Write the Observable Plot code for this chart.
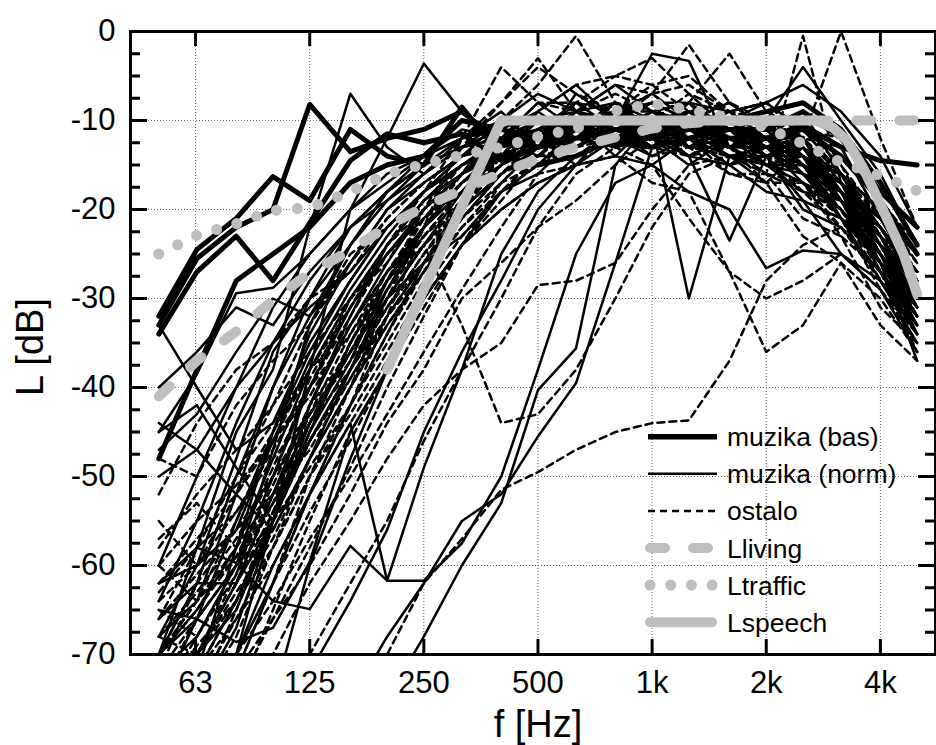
<!DOCTYPE html>
<html><head><meta charset="utf-8">
<script src="https://cdn.jsdelivr.net/npm/d3@7"></script>
<script src="https://cdn.jsdelivr.net/npm/@observablehq/plot@0.6"></script>
<style>body{margin:0;background:#fff;} #chart{width:936px;height:745px;}</style>
</head><body><div id="chart"></div>
<script>
// 1/3-octave band centre frequencies (Hz)
const bands = [50,63,80,100,125,160,200,250,315,400,500,630,800,1000,1250,1600,2000,2500,3150,4000,5000];

// muzika (bas) – thick solid
const basLines = [
  [-32,-24.5,-21,-16.3,-19,-11,-14,-15,-8.5,-14,-15,-14,-12,-12,-11,-11,-12,-10.5,-13,-14.5,-15],
  [-33,-25.5,-22,-20,-8.2,-13.5,-12,-11,-9,-12.5,-13,-12,-11,-11.5,-10,-10,-9,-8,-11,-17,-24],
  [-34,-27,-23,-28,-21.5,-14.5,-11.5,-12.5,-11.5,-14.5,-13,-11,-12.5,-13,-12,-11,-11,-9,-12,-18,-22],
  [-48,-38,-28,-25,-22,-17,-15,-14,-10,-11,-12,-10,-10,-11,-10,-12,-12,-11,-14,-19,-25]
];
// muzika (norm) – thin solid
const normLines = [
  [-80,-75,-70,-55,-38,-20,-12,-3.6,-9,-12,-8,-11,-9,-12,-8,-13,-10,-14,-16,-24,-27],
  [-70,-58,-45,-38,-22,-7,-13,-16,-12,-9,-13,-7,-10,-8,-13,-10,-14,-12,-19,-23,-31],
  [-75,-70,-65,-55,-45,-35,-28,-22,-18,-14,-12,-15,-10,-2.5,-3.3,-13,-15,-18,-19,-26,-30],
  [-60,-50,-40,-31,-25,-20,-16,-14,-12,-11,-9,-12,-11,-10.5,-30,-14,-17,-13,-18,-21,-28],
  [-65,-66,-68.6,-67,-59.6,-45,-38,-30,-24,-18,-16,-12,-13,-11,-14,-12,-15,-14,-21,-25,-33],
  [-62,-58,-59.7,-64,-64.9,-57.8,-61.7,-61.7,-57.5,-50,-38,-25,-17,-15,-12,-15,-13,-17,-19,-27,-32],
  [-80,-75,-70,-60,-52,-44,-61.7,-49,-38,-25,-18,-14,-12,-14,-12,-15,-14,-19,-21,-28,-34],
  [-80,-80,-80,-80,-80,-75,-68,-62,-55,-52,-45.5,-39.5,-26,-13,-12,-15,-12,-16,-18,-26,-31],
  [-80,-80,-80,-80,-80,-80,-75,-68,-60,-53,-40.3,-35.6,-15,-10,-13,-11,-14,-13,-19,-23,-30],
  [-70,-62,-50,-40,-32,-26,-20,-16,-13,-12,-9,-6,-10,-8,-10,-8,-11,-12,-17,-21,-28],
  [-75,-66,-55,-45,-36,-28,-22,-18,-14,-10,-7,-9,-6,-9,-8,-9,-8,-11,-13,-21,-25],
  [-68,-60,-48,-36,-30,-24,-19,-15,-12,-10,-12,-8,-11,-9,-11,-9,-12,-9,-16,-20,-28],
  [-64,-55,-44,-35,-28,-22,-18,-15,-13,-11,-13,-10,-14,-10,-12,-10,-13,-12,-18,-22,-29],
  [-72,-68,-60,-50,-40,-31,-25,-20,-16,-12,-13,-9,-8,-11,-9,-11,-11,-15,-17,-25,-32],
  [-50,-47,-40,-35,-31,-27,-22,-18,-15,-12,-14,-10,-13,-12,-15,-12,-13,-11,-16,-20,-25],
  [-45,-42,-49,-55,-45,-37,-28,-22,-17,-13,-10,-12,-10,-13,-9,-13,-12,-16,-18,-27,-34],
  [-80,-75,-67,-55,-44,-36,-30,-26,-23,-18,-15,-11,-12,-11,-14,-15,-18,-19,-25,-28,-35],
  [-75,-70,-62,-52,-42,-33,-26,-20,-16,-13,-11,-12,-9,-10,-9,-10,-8,-6,-9,-14,-22],
  [-80,-72,-64,-55,-46,-38,-30,-24,-18,-15,-13,-11,-12,-9,-12,-10,-10,-4,-10,-16,-24],
  [-80,-80,-72,-62,-52,-42,-34,-26,-20,-16,-13,-12,-11,-12,-14,-23.5,-14,-20,-22,-27,-32],
  [-80,-80,-80,-75,-60,-48,-38,-30,-24,-20,-17,-15,-14,-15,-18,-20,-26.6,-24.6,-25,-29,-36],
  [-70,-65,-58,-48,-38,-30,-24,-19,-15,-12,-10,-12,-11,-10,-12,-13,-15,-16,-21,-26,-37],
  [-45,-38.5,-29.4,-28.8,-25,-20,-17,-14,-12,-11,-13,-10,-11,-10,-13,-11,-14,-12,-18,-22,-28],
  [-33,-40,-47,-44,-35,-28,-22,-18,-15,-13,-11,-13,-10,-13,-11,-13,-13,-15,-18,-26,-30],
  [-44,-47,-52,-56,-48,-38,-29,-22,-17,-14,-12,-10,-12,-10,-13,-11,-15,-15,-21,-26,-33],
  [-70,-66,-60,-47,-33,-24,-18,-14,-11,-12,-10,-13,-11,-12,-10,-12,-12,-14,-17,-23,-29],
  [-68,-64,-52,-40,-30,-22,-18,-15,-13,-10,-12,-9,-11,-13,-11,-12,-13,-13,-18,-24,-30],
  [-80,-72,-58,-45,-34,-26,-20,-17,-14,-13,-11,-10,-12,-11,-12,-14,-13,-16,-20,-25,-34],
  [-66,-62,-62,-55,-42,-32,-24,-19,-16,-14,-12,-13,-10,-12,-12,-11,-13,-15,-19,-24,-31],
  [-62,-60,-56,-46,-37,-29,-23,-18,-14,-12,-10,-11,-12,-10,-11,-13,-12,-15,-18,-23,-29],
  [-40,-36,-31,-33,-27,-22,-19,-16,-13,-12,-11,-12,-10,-11,-12,-11,-12,-14,-17,-22,-27],
  [-47,-43,-36,-30,-32,-24,-18,-15,-13,-11,-12,-10,-11,-12,-10,-12,-14,-13,-18,-24,-31],
  [-80,-80,-80,-80,-72,-64,-56,-45,-36,-28,-20,-15,-12,-11,-12,-13,-13,-16,-20,-25,-30]
];
// ostalo – dashed
const ostaloLines = [
  [-80,-75,-68,-58,-48,-40,-32,-26,-20,-16,-13,-11,-8,-12,-10,-11,-12,-12,0,-12,-22],
  [-75,-70,-62,-52,-44,-36,-29,-24,-19,-15,-12,-9,-10,-8,-12,-13,-16,-0.5,-17,-22,-28],
  [-80,-80,-72,-62,-50,-40,-30,-22,-16,-10,-6,-0.5,-8,-10,-7,-11,-12,-15,-18,-24,-30],
  [-70,-64,-55,-46,-38,-30,-24,-18,-12,-8,-3,-9,-7,-9,-11,-9,-12,-13,-19,-23,-29],
  [-80,-80,-80,-80,-80,-78,-70,-62,-57,-51.5,-49.5,-47,-45,-44,-43.7,-37,-28,-24,-22,-27,-33],
  [-80,-80,-78,-70,-62,-55,-48,-42,-38,-35,-28.5,-28,-26,-20,-15,-14,-13,-16,-19,-24,-30],
  [-80,-75,-65,-55,-45,-35,-28,-24,-33,-44,-43,-38,-30,-22,-16,-14,-15,-17,-20,-26,-33],
  [-80,-80,-75,-65,-55,-45,-38,-30,-24,-20,-17,-15,-14,-17,-18,-27,-36,-33,-26,-30,-36],
  [-70,-62,-50,-42,-33,-26,-21,-17,-14,-11,-12,-8,-9,-7,-10,-8,-11,-12,-18,-22,-29],
  [-66,-58,-54,-47,-40,-32,-25,-20,-16,-13,-10,-11,-8,-9,-8,-11,-10,-13,-15,-23,-27],
  [-78,-70,-63,-57,-48,-40,-33,-27,-21,-16,-14,-11,-12,-10,-13,-12,-15,-15,-21,-25,-32],
  [-62,-57,-52,-45,-38,-31,-25,-21,-18,-13,-11,-8,-9,-6,-9,-8,-11,-11,-16,-20,-26],
  [-72,-66,-60,-53,-46,-38,-31,-25,-20,-15,-11,-11,-8,-11,-10,-13,-12,-16,-18,-26,-31],
  [-80,-78,-70,-62,-54,-46,-38,-31,-24,-18,-14,-10,-11,-10,-11,-10,-13,-13,-19,-22,-28],
  [-58,-52,-47,-42,-36,-30,-25,-21,-17,-14,-12,-9,-10,-7,-10,-9,-12,-12,-18,-21,-28],
  [-68,-63,-57,-50,-43,-36,-29,-23,-18,-14,-10,-9,-6,-7,-6,-9,-8,-12,-13,-21,-26],
  [-75,-69,-64,-58,-50,-43,-36,-29,-23,-18,-15,-12,-13,-10,-13,-13,-17,-17,-23,-27,-34],
  [-80,-80,-74,-66,-58,-49,-40,-32,-24,-17,-13,-12,-11,-14,-13,-16,-16,-21,-23,-31,-35],
  [-64,-60,-54,-48,-43,-37,-31,-26,-21,-16,-12,-12,-9,-12,-11,-12,-11,-15,-17,-25,-30],
  [-70,-64,-58,-52,-44,-35,-27,-21,-16,-12,-8,-8,-5,-6,-5,-9,-8,-11,-12,-19,-24],
  [-60,-55,-51,-46,-40,-34,-28,-23,-19,-14,-13,-9,-12,-11,-14,-11,-14,-14,-21,-25,-31],
  [-76,-72,-66,-60,-52,-44,-37,-30,-24,-19,-14,-13,-9,-10,-9,-12,-11,-15,-16,-23,-27],
  [-80,-76,-70,-64,-57,-50,-43,-36,-29,-22,-16,-15,-11,-12,-11,-14,-14,-18,-20,-28,-33],
  [-75,-68,-60,-52,-44,-36,-28,-20,-13,-8,-4,-7,-9,-8,-10,-11,-12,-14,-18,-24,-30],
  [-80,-74,-66,-58,-50,-42,-34,-27,-20,-14,-9,-6,-5,-3,-7,-9,-10,-12,-16,-21,-27],
  [-70,-65,-59,-53,-46,-39,-32,-26,-21,-17,-13,-13,-10,-13,-12,-16,-17,-23,-26,-33,-37],
  [-66,-61,-56,-50,-44,-38,-32,-27,-22,-18,-14,-14,-11,-12,-11,-14,-14,-19,-21,-29,-35],
  [-80,-72,-64,-56,-48,-40,-33,-27,-21,-16,-13,-11,-9,-7,-1.5,-8,-10,-12,-16,-22,-28],
  [-78,-70,-62,-54,-46,-38,-31,-25,-19,-15,-12,-10,-9,-8,-8,-2.5,-9,-11,-15,-21,-27],
  [-80,-76,-70,-62,-52,-42,-32,-22,-12,-4,-8,-9,-10,-11,-10,-12,-13,-15,-19,-25,-31],
  [-80,-72,-64,-55,-46,-38,-30,-24,-19,-15,-12,-11,-13,-15,-21,-27,-30,-28,-25,-29,-34],
  [-55,-60,-52,-46,-41,-33,-27,-22,-17,-13,-12,-10,-11,-9,-12,-10,-12,-13,-17,-22,-29],
  [-65,-68,-61,-50,-39,-31,-24,-20,-15,-14,-11,-12,-9,-11,-10,-12,-11,-14,-18,-25,-31],
  [-57,-53,-58,-49,-40,-30,-26,-19,-16,-12,-12,-9,-10,-10,-11,-9,-13,-14,-17,-23,-30],
  [-68,-70,-64,-54,-44,-35,-28,-21,-17,-14,-10,-12,-8,-10,-9,-11,-12,-13,-16,-22,-27],
  [-72,-62,-56,-52,-47,-39,-32,-26,-19,-15,-13,-11,-12,-11,-13,-12,-14,-16,-20,-27,-33],
  [-63,-58,-50,-44,-38,-33,-27,-23,-18,-15,-11,-10,-13,-10,-12,-11,-13,-15,-19,-24,-28],
  [-80,-70,-61,-53,-43,-34,-27,-22,-18,-13,-12,-10,-9,-9,-10,-10,-12,-14,-19,-24,-32],
  [-74,-66,-60,-55,-49,-42,-35,-28,-22,-17,-15,-13,-12,-13,-14,-13,-16,-17,-22,-27,-36],
  [-60,-64,-59,-51,-42,-36,-30,-24,-20,-16,-13,-12,-13,-11,-11,-12,-14,-15,-20,-26,-32],
  [-52,-44,-38,-35,-30,-27,-21,-17,-14,-12,-11,-10,-11,-12,-10,-11,-13,-15,-18,-23,-29],
  [-48,-50,-42,-37,-33,-25,-22,-18,-15,-13,-12,-11,-9,-10,-11,-12,-12,-14,-19,-24,-30],
  [-80,-80,-80,-76,-70,-62,-55,-46,-38,-30,-22,-16,-13,-12,-13,-14,-15,-17,-21,-26,-32],
  [-80,-78,-72,-66,-60,-52,-44,-38,-30,-26,-22,-19,-15,-12,-13,-14,-16,-18,-22,-28,-34]
];
// reference curves
const livingL  = [-41,-37,-33.7,-30.2,-27.1,-24.6,-21.9,-19.7,-17.8,-15.9,-14.3,-13,-11.9,-10.9,-10.3,-10,-10,-10,-10,-10,-10];
const trafficL = [-25,-22.9,-21.6,-20.1,-19.8,-18,-16,-14.9,-13.9,-13,-11.8,-10.9,-8.9,-8.1,-8.8,-9.7,-10.8,-12.6,-14.7,-16.2,-17.9];
const speechF  = [200,400,2700,3000,3270,3600,4070,4600,5000];
const speechL  = [-38,-10,-10,-10.8,-12.3,-15.3,-20.1,-25,-29.5];

// axes
const xTicks = [62.5,125,250,500,1000,2000,4000];
const xTickLabels = ["63","125","250","500","1k","2k","4k"];
const yTicks = [0,-10,-20,-30,-40,-50,-60,-70];
const yMinor = [-2.5,-5,-7.5,-12.5,-15,-17.5,-22.5,-25,-27.5,-32.5,-35,-37.5,-42.5,-45,-47.5,-52.5,-55,-57.5,-62.5,-65,-67.5];

const legendItems = ["muzika (bas)","muzika (norm)","ostalo","Lliving","Ltraffic","Lspeech"];

const toRows = (lines, cat) => lines.flatMap((vals, i) =>
  vals.map((v, j) => ({f: bands[j], L: v, id: cat + i})));
const basRows = toRows(basLines, "bas");
const normRows = toRows(normLines, "norm");
const ostaloRows = toRows(ostaloLines, "ost");
const livingRows = bands.map((f, i) => ({f, L: livingL[i]}));
const trafficRows = bands.map((f, i) => ({f, L: trafficL[i]}));
const speechRows = speechF.map((f, i) => ({f, L: speechL[i]}));
const xTickRows = xTicks.map((v, i) => ({v, label: xTickLabels[i]}));
const yTickRows = yTicks.map(v => ({v}));
const yGridRows = yTicks.filter(v => v > -70 && v < 0).map(v => ({v}));
const yMinorRows = yMinor.map(v => ({v}));

const W = 936, H = 745, mL = 130, mR = 1, mT = 31, mB = 91;
const fw = W - mL - mR, fh = H - mT - mB;
const GRAY = "#bebebe";
const font = "'Liberation Sans', Arial, Helvetica, sans-serif";

const plot = Plot.plot({
  width: W, height: H, marginLeft: mL, marginRight: mR, marginTop: mT, marginBottom: mB,
  style: {fontFamily: font, background: "white", color: "black", overflow: "visible"},
  x: {type: "log", domain: [42.1, 5590], axis: null},
  y: {domain: [-70, 0], axis: null},
  marks: [
    Plot.ruleX(xTickRows, {x: "v", stroke: "#666", strokeWidth: 1, strokeDasharray: "1,2"}),
    Plot.ruleY(yGridRows, {y: "v", stroke: "#666", strokeWidth: 1, strokeDasharray: "1,2"}),
    Plot.line(ostaloRows, {x: "f", y: "L", z: "id", stroke: "black", strokeWidth: 2.5, strokeDasharray: "7,5", clip: true}),
    Plot.line(normRows, {x: "f", y: "L", z: "id", stroke: "black", strokeWidth: 2.5, clip: true}),
    Plot.line(basRows, {x: "f", y: "L", z: "id", stroke: "black", strokeWidth: 5, clip: true}),
    Plot.line(livingRows, {x: "f", y: "L", stroke: GRAY, strokeWidth: 10, strokeDasharray: "15,28", strokeLinecap: "round", clip: true}),
    Plot.line(trafficRows, {x: "f", y: "L", stroke: GRAY, strokeWidth: 11, strokeDasharray: "0,21", strokeLinecap: "round", clip: true}),
    Plot.line(speechRows, {x: "f", y: "L", stroke: GRAY, strokeWidth: 10, strokeLinecap: "round", clip: true}),
    Plot.frame({stroke: "black", strokeWidth: 3}),
    // inward ticks
    Plot.ruleX(xTickRows, {x: "v", stroke: "black", strokeWidth: 3, insetTop: fh - 15}),
    Plot.ruleX(xTickRows, {x: "v", stroke: "black", strokeWidth: 3, insetBottom: fh - 15}),
    Plot.ruleY(yTickRows, {y: "v", stroke: "black", strokeWidth: 3, insetRight: fw - 17}),
    Plot.ruleY(yTickRows, {y: "v", stroke: "black", strokeWidth: 3, insetLeft: fw - 17}),
    Plot.ruleY(yMinorRows, {y: "v", stroke: "black", strokeWidth: 3, insetRight: fw - 10}),
    Plot.ruleY(yMinorRows, {y: "v", stroke: "black", strokeWidth: 3, insetLeft: fw - 10}),
    // tick labels
    Plot.text(xTickRows, {x: "v", text: "label", frameAnchor: "bottom", dy: 29, fontSize: 31, lineAnchor: "middle"}),
    Plot.text(yTickRows, {y: "v", text: d => String(d.v), frameAnchor: "left", dx: -15, textAnchor: "end", fontSize: 31, lineAnchor: "middle"})
  ]
});
document.getElementById("chart").appendChild(plot);

// axis titles and legend
const svg = d3.select(plot);
svg.append("text").attr("x", 538).attr("y", 737).attr("text-anchor", "middle")
  .attr("font-family", font).attr("font-size", 38).attr("fill", "black").text("f [Hz]");
svg.append("text").attr("transform", "translate(43,347) rotate(-90)").attr("text-anchor", "middle")
  .attr("font-family", font).attr("font-size", 38).attr("fill", "black").text("L [dB]");

const lg = svg.append("g");
const styles = [
  {stroke: "black", w: 5.5, dash: null, cap: "butt", x1: 648, x2: 717},
  {stroke: "black", w: 2.5, dash: null, cap: "butt", x1: 648, x2: 717},
  {stroke: "black", w: 2.5, dash: "7,5", cap: "butt", x1: 648, x2: 717},
  {stroke: GRAY, w: 10, dash: "15,28", cap: "round", x1: 650, x2: 712},
  {stroke: GRAY, w: 11, dash: "0,20.7", cap: "round", x1: 650, x2: 713},
  {stroke: GRAY, w: 10, dash: null, cap: "round", x1: 650, x2: 712}
];
legendItems.forEach((name, i) => {
  const y = 436.7 + i * 37.1;
  const s = styles[i];
  lg.append("line").attr("x1", s.x1).attr("x2", s.x2).attr("y1", y).attr("y2", y)
    .attr("stroke", s.stroke).attr("stroke-width", s.w).attr("stroke-linecap", s.cap)
    .attr("stroke-dasharray", s.dash);
  lg.append("text").attr("x", 727).attr("y", y + 9.5).attr("text-anchor", "start")
    .attr("font-family", font).attr("font-size", 26.5).attr("fill", "black").text(name);
});
</script>
</body></html>
